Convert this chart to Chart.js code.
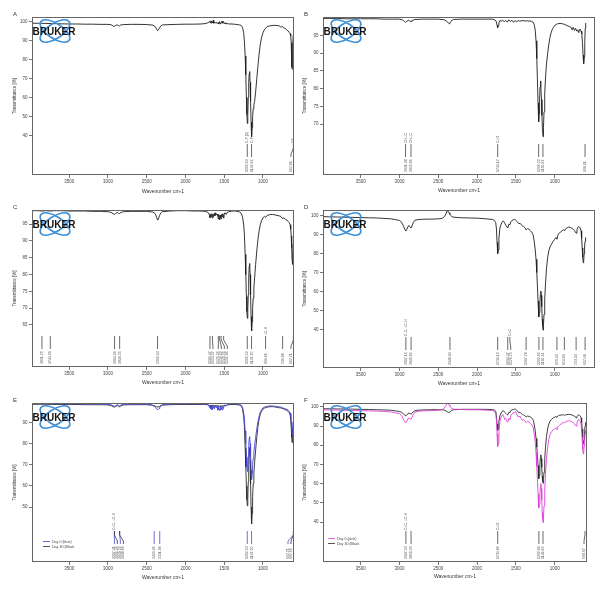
<!DOCTYPE html>
<html>
<head>
<meta charset="utf-8">
<script src="https://cdn.jsdelivr.net/npm/chart.js"></script>
<style>
  body { margin: 0; background: #fff; width: 602px; height: 592px; position: relative; overflow: hidden; }
  canvas { position: absolute; }
</style>
</head>
<body>
<canvas id="cA" width="300" height="195" style="left:0;top:0"></canvas>
<canvas id="cB" width="302" height="195" style="left:300px;top:0"></canvas>
<canvas id="cC" width="300" height="195" style="left:0;top:195px"></canvas>
<canvas id="cD" width="302" height="195" style="left:300px;top:195px"></canvas>
<canvas id="cE" width="300" height="202" style="left:0;top:390px"></canvas>
<canvas id="cF" width="302" height="202" style="left:300px;top:390px"></canvas>
<script>
// tick labels
const xTicks = [3500, 3000, 2500, 2000, 1500, 1000];
const yTicksA = [40, 50, 60, 70, 80, 90, 100];
const yTicksB = [70, 75, 80, 85, 90, 95];
const yTicksC = [65, 70, 75, 80, 85, 90, 95];
const yTicksD = [40, 50, 60, 70, 80, 90, 100];
const yTicksE = [50, 60, 70, 80, 90];
const yTicksF = [40, 50, 60, 70, 80, 90, 100];

// A
const wnA = [3980,3900,3800,3700,3600,3500,3400,3300,3200,3100,
  3000,2960,2935,2920,2905,2880,2860,2850,2840,2800,
  2700,2600,2500,2420,2390,2370,2360,2350,2335,2320,
  2300,2200,2100,2000,1900,1800,1750,1720,1700,1690,
  1680,1672,1665,1658,1650,1642,1635,1625,1615,1600,
  1590,1580,1570,1560,1550,1540,1530,1520,1510,1500,
  1490,1480,1460,1440,1400,1350,1300,1280,1265,1250,
  1240,1230,1222,1214,1208,1202,1196,1190,1184,1178,
  1172,1166,1160,1154,1147,1141,1134,1126,1118,1108,
  1095,1080,1065,1050,1035,1020,1000,980,960,940,
  900,860,820,790,770,750,730,710,690,675,
  660,650,642,636,630,626,622,618,614,610,
  606,600];
const tA = [99.3,99.3,99.2,99.1,99.0,98.9,98.9,98.8,98.8,98.7,
  98.7,98.5,97.8,97.6,98.1,98.4,98.0,97.9,98.3,98.6,
  98.7,98.7,98.6,98.3,97.5,96.0,95.3,95.8,96.8,97.8,
  98.4,98.6,98.7,98.8,98.8,98.9,99.1,99.4,99.7,100.3,
  99.5,100.6,99.4,100.2,99.6,100.8,99.3,99.9,99.4,99.8,
  99.1,99.6,99.0,100.2,98.8,99.7,100.5,99.2,100.3,99.1,
  99.5,98.9,99.2,98.9,98.9,98.7,98.4,98.1,97.2,94.5,
  90.0,82.0,72.0,60.0,51.0,46.3,51.0,60.0,68.0,72.5,
  73.7,68.0,58.0,47.0,39.3,44.0,50.0,54.0,56.0,58.0,
  63.0,70.0,77.0,83.0,88.0,91.5,94.3,96.0,97.0,97.6,
  98.0,98.2,98.1,97.9,97.3,97.5,96.8,96.5,95.6,95.2,
  94.3,93.8,92.5,89.0,82.0,76.0,75.0,80.0,88.0,93.0,
  95.0,95.5];
const peaksA = [1202.63, 1147.83, 607.86];
const namesA = ['C-F (1)', 'C-F', 'CF'];

// B
const wnB = [3985,3900,3800,3700,3600,3500,3400,3300,3200,3100,
  3000,2960,2935,2921,2905,2880,2862,2851,2840,2800,
  2700,2600,2500,2420,2390,2370,2360,2350,2335,2320,
  2300,2200,2100,2000,1900,1800,1770,1750,1742,1734,
  1726,1718,1705,1690,1670,1650,1630,1610,1590,1570,
  1550,1530,1510,1490,1470,1450,1420,1390,1350,1300,
  1280,1265,1250,1240,1230,1222,1214,1206,1200,1194,
  1188,1182,1176,1170,1164,1157,1150,1144,1137,1128,
  1118,1105,1090,1075,1060,1045,1030,1015,1000,980,
  960,930,900,870,840,810,790,775,760,745,
  730,715,700,690,680,670,660,650,642,634,
  626,618,612,606,600];
const tB = [99.8,99.8,99.8,99.7,99.7,99.7,99.7,99.7,99.6,99.6,
  99.6,99.4,98.9,98.7,99.0,99.3,99.0,98.9,99.2,99.5,
  99.6,99.6,99.6,99.4,99.0,98.5,98.3,98.5,99.0,99.3,
  99.5,99.6,99.6,99.6,99.6,99.6,99.4,98.8,97.8,97.2,
  97.8,98.6,99.2,99.0,99.3,98.9,99.2,98.8,99.4,98.9,
  99.3,98.7,99.2,98.8,99.3,99.0,99.2,99.1,99.1,99.0,
  98.8,98.2,96.5,93.5,88.5,82.5,76.0,70.7,73.0,77.0,
  80.5,82.2,81.0,77.0,72.5,68.5,66.5,69.0,73.5,78.5,
  83.0,87.0,90.0,92.5,94.5,95.8,96.7,97.3,97.8,98.1,
  98.3,98.4,98.3,98.1,97.8,97.5,97.3,96.6,97.3,96.4,
  97.0,96.2,96.6,95.8,96.5,96.8,96.2,95.5,93.0,89.5,
  87.1,89.0,93.0,97.0,98.5];
const peaksB = [2921.38, 2850.86, 1734.17, 1206.22, 1150.87, 608.31];
const namesB = ['CH\u2082-C', 'CH\u2082-C', 'C=O', '', '', ''];

// C
const wnC = [3980,3900,3851,3800,3744,3700,3600,3500,3400,3300,
  3200,3100,3000,2960,2935,2915,2900,2880,2862,2850,
  2840,2800,2700,2600,2500,2420,2390,2370,2360,2350,
  2335,2320,2300,2200,2100,2000,1900,1800,1750,1720,
  1700,1690,1684,1676,1668,1660,1653,1645,1637,1628,
  1620,1610,1600,1590,1582,1576,1570,1564,1558,1552,
  1546,1540,1533,1526,1518,1512,1507,1500,1490,1475,
  1460,1440,1400,1350,1300,1280,1265,1250,1240,1230,
  1222,1214,1208,1202,1196,1190,1184,1178,1172,1166,
  1160,1154,1147,1141,1134,1126,1118,1108,1095,1080,
  1065,1050,1035,1020,1000,980,966,950,920,880,
  840,800,770,746,730,710,690,675,660,650,
  642,636,630,625,620,616,612,608,604,600];
const tC = [99.0,99.0,98.9,99.0,98.9,99.0,99.0,98.9,98.9,98.9,
  98.8,98.8,98.7,98.5,98.1,97.9,98.2,98.5,98.2,98.1,
  98.4,98.7,98.8,98.8,98.8,98.6,98.1,96.9,96.2,96.5,
  97.5,98.3,98.7,98.9,99.0,99.0,98.9,98.9,98.8,98.6,
  98.3,97.6,96.9,98.0,97.2,98.1,96.8,97.9,97.3,98.2,
  97.5,98.4,97.7,98.0,97.4,96.5,97.8,97.0,96.4,97.7,
  97.1,96.6,97.9,97.3,98.1,97.2,96.8,98.0,98.4,97.9,
  98.5,98.7,98.9,98.9,98.6,98.2,97.2,95.0,92.0,86.0,
  80.0,73.5,69.0,67.0,69.5,74.0,79.0,82.5,83.3,80.0,
  74.0,67.5,63.2,66.0,70.0,73.0,76.0,79.0,83.0,87.0,
  90.5,93.0,94.8,96.0,96.9,97.3,97.0,97.5,97.8,97.9,
  97.7,97.5,97.3,96.6,96.9,96.4,96.2,95.8,95.4,94.8,
  93.5,91.5,88.0,84.5,83.0,84.5,89.0,94.0,97.5,98.5];
const peaksC = [3851.70, 3744.09, 2914.90, 2849.25, 2360.54, 1684.47, 1653.07, 1576.26,
  1558.92, 1540.05, 1507.86, 1202.52, 1147.70, 966.86, 746.88, 607.71];
const namesC = ['', '', '', '', '', '', '', '', '', '', '', '', '', '=C-H', '', ''];

// D and F share one wavenumber grid
const wnDF = [3985,3900,3800,3700,3600,3500,3400,3300,3200,3100,
  3050,3000,2970,2945,2930,2917,2905,2890,2875,2862,
  2850,2838,2820,2800,2750,2700,2600,2500,2450,2420,
  2400,2385,2370,2360,2350,2340,2325,2300,2200,2100,
  2000,1900,1800,1780,1760,1750,1742,1734,1726,1718,
  1705,1690,1675,1660,1645,1630,1615,1604,1590,1576,
  1565,1550,1535,1520,1505,1490,1475,1460,1445,1430,
  1415,1400,1385,1367,1350,1330,1310,1290,1275,1262,
  1250,1240,1230,1222,1214,1208,1202,1196,1190,1184,
  1178,1172,1166,1160,1155,1150,1144,1137,1128,1118,
  1105,1090,1075,1060,1040,1020,1000,985,970,960,
  950,935,920,900,885,874,860,840,820,800,
  780,760,745,735,723,712,700,690,680,670,
  660,652,645,638,632,626,620,614,608,603,
  600];
const tD = [99.5,99.4,99.3,99.2,99.1,99.0,98.9,98.8,98.6,98.3,
  97.9,97.5,96.5,94.2,92.8,91.9,92.8,94.3,94.8,93.9,
  93.5,94.6,96.5,97.6,98.0,98.1,98.2,98.3,98.6,99.5,
  101.0,102.5,102.2,101.5,100.8,100.2,99.5,99.2,98.9,98.8,
  98.7,98.4,98.0,97.6,96.5,93.0,86.0,80.0,82.0,88.0,
  93.5,95.5,96.8,97.2,96.3,95.0,94.0,93.5,95.5,95.2,
  96.8,97.4,97.8,98.0,97.8,97.2,96.3,95.8,96.0,95.2,
  94.6,94.4,93.8,92.5,93.2,92.8,92.0,91.0,89.5,86.0,
  82.0,77.0,70.0,63.0,55.0,49.5,46.6,49.0,54.0,58.5,
  60.3,58.0,52.0,45.5,42.0,39.7,42.5,48.0,56.0,64.0,
  72.0,78.0,81.5,83.5,85.0,86.5,87.5,88.5,87.6,89.5,
  90.5,91.0,91.5,92.2,92.6,92.0,93.0,93.6,94.0,93.8,
  93.4,92.8,92.2,91.5,90.8,92.5,94.0,94.4,94.0,93.5,
  92.0,88.0,83.0,78.0,75.2,76.0,80.0,84.0,86.5,88.0,
  88.5];
const peaksD = [2917.16, 2849.85, 2348.94, 1734.12, 1604.47, 1576.75, 1367.78, 1202.65,
  1150.74, 970.43, 874.80, 723.34, 607.48];
const namesD = ['C-C, =C-H', '', '', '', '', 'C=C', '', '', '', '', '', '', ''];

// E
const wnE = [3980,3900,3800,3700,3600,3500,3400,3300,3200,3100,
  3000,2960,2935,2917,2900,2880,2862,2849,2835,2800,
  2700,2600,2500,2440,2404,2390,2370,2355,2340,2331,
  2315,2300,2200,2100,2000,1900,1800,1750,1720,1700,
  1690,1682,1674,1666,1658,1650,1642,1634,1626,1618,
  1610,1600,1590,1582,1574,1566,1558,1550,1542,1534,
  1526,1518,1510,1502,1490,1475,1460,1440,1400,1350,
  1300,1280,1265,1250,1240,1230,1222,1214,1208,1202,
  1196,1190,1184,1178,1172,1166,1160,1154,1147,1141,
  1134,1126,1118,1108,1095,1080,1065,1050,1035,1020,
  1000,980,950,920,880,840,800,770,740,710,
  690,675,660,650,642,636,630,625,620,616,
  612,608,604,600];
const tE0 = [98.9,98.9,98.9,98.8,98.8,98.8,98.8,98.7,98.7,98.7,
  98.6,98.3,97.9,97.6,98.0,98.4,98.0,97.8,98.2,98.6,
  98.7,98.7,98.6,98.4,97.6,97.2,96.4,96.0,96.6,97.0,
  97.8,98.4,98.7,98.8,98.8,98.8,98.8,98.7,98.5,98.1,
  97.0,98.2,96.4,97.8,96.0,97.5,96.8,98.1,96.5,97.4,
  98.0,96.9,97.6,95.8,97.2,96.3,95.7,97.5,96.2,97.0,
  95.9,97.6,96.6,97.8,98.2,97.7,98.4,98.6,98.8,98.8,
  98.5,98.1,97.2,95.0,92.0,86.0,80.0,73.5,69.0,66.8,
  69.5,74.0,79.0,82.5,83.3,80.0,74.0,67.5,63.0,66.0,
  70.0,73.0,76.0,79.0,83.0,87.0,90.5,93.0,94.8,96.0,
  96.9,97.3,97.6,97.8,97.8,97.6,97.4,97.3,96.8,96.4,
  96.2,95.8,95.2,94.5,93.0,90.5,87.0,84.5,84.0,86.0,
  90.0,94.5,97.5,98.5];
const tE30 = [98.6,98.6,98.6,98.5,98.5,98.5,98.5,98.4,98.4,98.4,
  98.3,98.0,97.5,97.2,97.6,98.0,97.6,97.4,97.8,98.3,
  98.4,98.4,98.4,98.2,97.9,97.7,97.4,97.3,97.5,97.7,
  98.0,98.2,98.4,98.5,98.5,98.5,98.5,98.5,98.4,98.2,
  98.0,98.2,97.8,98.1,97.7,98.0,97.8,98.2,97.7,98.0,
  98.2,97.8,98.0,97.6,97.9,97.6,97.5,97.9,97.6,97.9,
  97.6,98.0,97.8,98.1,98.2,98.0,98.3,98.4,98.5,98.5,
  98.2,97.8,96.5,93.0,88.0,78.0,69.0,60.0,53.5,50.6,
  54.0,62.0,70.0,76.5,78.2,72.0,61.0,50.0,42.0,47.0,
  55.0,61.0,66.0,71.0,77.0,83.0,88.0,91.5,93.8,95.2,
  96.3,96.8,97.2,97.4,97.5,97.3,97.0,96.9,96.5,96.0,
  95.7,95.2,94.5,93.6,91.5,87.5,83.0,80.5,80.5,83.0,
  88.0,93.0,97.0,98.0];
const peaksE = [2917.41, 2916.46, 2849.25, 2848.86, 2403.95, 2331.96, 1202.52, 1147.70, 607.71, 607.06];
const namesE = ['C=C, =C-H', '', '', '', '', '', '', '', '', ''];
const peakColorsE = ['#4b4bd6', '#333', '#4b4bd6', '#333', '#4b4bd6', '#4b4bd6', '#4b4bd6', '#4b4bd6', '#4b4bd6', '#333'];

// F (on the D grid)
const tF0 = [98.4,98.4,98.3,98.2,98.1,98.0,97.9,97.8,97.6,97.3,
  96.9,96.4,95.3,93.2,92.2,91.6,92.4,93.8,94.3,93.7,
  93.5,94.5,96.2,97.2,97.7,97.9,98.0,98.2,98.5,99.4,
  100.8,101.7,101.5,101.0,100.5,99.8,99.0,98.8,98.6,98.5,
  98.5,98.3,98.1,97.7,96.5,93.0,86.0,79.4,81.0,87.0,
  92.5,94.5,95.8,95.6,93.5,93.8,92.5,92.0,94.0,93.2,
  95.3,96.2,96.8,97.0,97.6,96.5,95.0,94.8,95.2,93.8,
  93.0,93.5,92.8,91.8,92.5,92.0,91.2,90.5,89.0,85.5,
  81.5,76.0,69.0,62.0,54.5,49.5,47.3,49.5,54.5,58.5,
  60.0,57.5,51.5,45.0,41.5,39.8,42.5,48.5,57.0,65.0,
  73.0,79.0,83.0,85.5,87.0,88.0,88.6,89.0,88.0,89.5,
  90.0,90.5,91.0,91.5,92.0,91.5,92.2,92.5,92.8,92.6,
  92.3,91.8,91.2,90.5,90.0,91.5,93.0,93.5,93.2,92.5,
  91.0,87.5,82.5,78.0,75.5,76.0,79.5,83.5,86.0,87.5,
  88.0];
const tF30 = [99.0,99.0,98.9,98.9,98.8,98.7,98.6,98.5,98.4,98.2,
  97.9,97.6,97.1,96.2,95.7,95.4,95.8,96.5,96.8,96.4,
  96.2,96.6,97.5,98.0,98.3,98.4,98.5,98.5,98.5,98.3,
  97.9,97.4,97.1,97.2,97.4,97.7,98.2,98.5,98.7,98.7,
  98.7,98.7,98.6,98.4,97.8,95.5,91.0,87.8,89.0,92.5,
  95.5,96.8,97.6,98.0,97.2,96.6,96.0,95.8,97.2,97.0,
  98.0,98.4,98.6,98.8,98.8,98.3,97.5,97.0,97.2,96.5,
  96.0,95.8,95.4,94.8,95.2,95.0,94.6,94.0,93.0,90.5,
  87.5,83.5,79.0,74.5,69.5,65.5,62.6,64.5,69.5,73.5,
  75.0,73.0,68.5,64.0,61.5,60.2,62.0,66.0,72.5,79.0,
  84.5,88.5,91.0,92.5,93.5,94.2,94.6,95.0,94.5,95.2,
  95.5,95.6,95.7,95.8,95.9,95.5,95.8,96.0,96.1,96.0,
  95.8,95.5,95.2,94.7,94.3,95.0,95.6,95.8,95.6,95.2,
  94.3,92.0,88.5,84.0,80.5,80.5,83.0,87.0,90.0,91.5,
  92.0];
const peaksF = [2917.23, 2850.26, 1733.86, 1202.89, 1149.83, 608.67];
const namesF = ['C=C, =C-H', '', 'C=O', '', '', ''];

const FONT = '"Liberation Sans", Arial, sans-serif';
const BLACK = '#1e1e1e';

// frame, Bruker logo, panel letter, small legend
const deco = {
  id: 'deco',
  afterDraw(chart, args, o) {
    const { ctx, chartArea: a } = chart;
    ctx.save();
    ctx.strokeStyle = '#666';
    ctx.lineWidth = 1;
    ctx.strokeRect(Math.round(a.left) + 0.5, Math.round(a.top) + 0.5,
      Math.round(a.right - a.left) - 1, Math.round(a.bottom - a.top) - 1);

    const cx = a.left + 23, cy = a.top + 14;
    ctx.strokeStyle = '#3d8fd8';
    ctx.lineWidth = 1.7;
    [0.58, -0.58].forEach(r => {
      ctx.beginPath();
      ctx.ellipse(cx, cy, 17, 7.5, r, 0, Math.PI * 2);
      ctx.stroke();
    });
    ctx.fillStyle = '#111';
    ctx.font = 'bold 10px ' + FONT;
    ctx.textAlign = 'center';
    ctx.textBaseline = 'middle';
    ctx.fillText('BRUKER', a.left + 22, cy + 1);

    ctx.fillStyle = '#333';
    ctx.font = '6px ' + FONT;
    ctx.textAlign = 'left';
    ctx.textBaseline = 'alphabetic';
    ctx.fillText(o.letter, a.left - 19, a.top - 1);

    if (o.legend) {
      ctx.font = '3.6px ' + FONT;
      ctx.textBaseline = 'middle';
      chart.data.datasets.forEach((d, i) => {
        const y = a.bottom - o.legend.dy + i * 5;
        const x = a.left + o.legend.dx;
        ctx.strokeStyle = d.borderColor;
        ctx.lineWidth = 0.8;
        ctx.beginPath();
        ctx.moveTo(x, y);
        ctx.lineTo(x + 7, y);
        ctx.stroke();
        ctx.fillStyle = '#444';
        ctx.fillText(d.label, x + 9, y);
      });
    }
    ctx.restore();
  }
};

// OPUS style peak picks: wavenumber text, tick line, assignment above
const peakLabels = {
  id: 'peaks',
  afterDatasetsDraw(chart, args, o) {
    if (!o.values) return;
    const { ctx, chartArea: a, scales: { x } } = chart;
    const items = o.values.map((v, i) => ({
      v, name: o.names[i] || '', color: (o.colors && o.colors[i]) || '#444',
      px: x.getPixelForValue(v)
    })).sort((p, q) => p.px - q.px);
    const gap = 3;
    items.forEach((it, i) => { it.lx = i ? Math.max(it.px, items[i - 1].lx + gap) : it.px; });
    let lim = a.right - 3;
    for (let i = items.length - 1; i >= 0; i--) {
      if (items[i].lx > lim) items[i].lx = lim;
      lim = items[i].lx - gap;
    }
    const b = a.bottom;
    ctx.save();
    ctx.lineWidth = 0.8;
    ctx.font = '3.5px ' + FONT;
    ctx.textBaseline = 'middle';
    ctx.textAlign = 'left';
    items.forEach(it => {
      ctx.strokeStyle = it.color;
      ctx.beginPath();
      ctx.moveTo(it.px, b - 31);
      ctx.lineTo(it.px, b - 27);
      ctx.lineTo(it.lx, b - 21);
      ctx.lineTo(it.lx, b - 18);
      ctx.stroke();
      ctx.fillStyle = '#555';
      ctx.save();
      ctx.translate(it.lx, b - 3);
      ctx.rotate(-Math.PI / 2);
      ctx.fillText(it.v.toFixed(2), 0, 0);
      ctx.restore();
      if (it.name) {
        ctx.save();
        ctx.translate(it.px, b - 32);
        ctx.rotate(-Math.PI / 2);
        ctx.fillText(it.name, 0, 0);
        ctx.restore();
      }
    });
    ctx.restore();
  }
};

function panel(o) {
  const small = { family: FONT, size: 4.5 };
  const datasets = o.series.map(s => ({
    label: s.label,
    data: s.wn.map((w, i) => ({ x: w, y: s.t[i] })),
    borderColor: s.color,
    borderWidth: 0.9,
    pointRadius: 0,
    tension: 0,
    fill: false
  }));
  new Chart(document.getElementById(o.id), {
    type: 'line',
    data: { datasets },
    options: {
      responsive: false,
      animation: false,
      events: [],
      layout: { padding: { left: 0, top: o.box.top, right: o.box.right, bottom: 0 } },
      plugins: {
        legend: { display: false },
        tooltip: { enabled: false },
        deco: { letter: o.letter, legend: o.legend },
        peaks: { values: o.peaks, names: o.names, colors: o.peakColors }
      },
      scales: {
        x: {
          type: 'linear', reverse: true, min: o.xr[0], max: o.xr[1],
          afterBuildTicks: s => { s.ticks = xTicks.map(v => ({ value: v })); },
          afterFit: s => { s.height = o.box.xh; },
          ticks: { font: small, color: '#444', padding: 1.5, maxRotation: 0, autoSkip: false, callback: v => String(v) },
          grid: { drawOnChartArea: false, tickLength: 3, color: '#777' },
          border: { display: false },
          title: { display: true, text: 'Wavenumber cm-1', font: { family: FONT, size: 5 }, color: '#333',
            padding: { top: 0, bottom: o.box.xtp } }
        },
        y: {
          min: o.yr[0], max: o.yr[1],
          afterBuildTicks: s => { s.ticks = o.yTicks.map(v => ({ value: v })); },
          afterFit: s => { s.width = o.box.yw; },
          ticks: { font: small, color: '#444', padding: 1.5, autoSkip: false, callback: v => String(v) },
          grid: { drawOnChartArea: false, tickLength: 3, color: '#777' },
          border: { display: false },
          title: { display: true, text: 'Transmittance [%]', font: small, color: '#333',
            padding: { top: o.box.ytp, bottom: 0 } }
        }
      }
    },
    plugins: [peakLabels, deco]
  });
}

panel({ id: 'cA', letter: 'A', xr: [600, 3980], yr: [19, 102.6], yTicks: yTicksA,
  series: [{ label: 'A', wn: wnA, t: tA, color: BLACK }],
  peaks: peaksA, names: namesA,
  box: { top: 17, right: 6, yw: 32, xh: 20, ytp: 12.3, xtp: 0 } });

panel({ id: 'cB', letter: 'B', xr: [480, 3985], yr: [55.7, 100.2], yTicks: yTicksB,
  series: [{ label: 'B', wn: wnB, t: tB, color: BLACK }],
  peaks: peaksB, names: namesB,
  box: { top: 17, right: 7, yw: 23, xh: 20, ytp: 2.3, xtp: 1.3 } });

panel({ id: 'cC', letter: 'C', xr: [600, 3980], yr: [52.5, 99.2], yTicks: yTicksC,
  series: [{ label: 'C', wn: wnC, t: tC, color: BLACK }],
  peaks: peaksC, names: namesC,
  box: { top: 15, right: 6, yw: 32, xh: 23, ytp: 12.3, xtp: 4 } });

panel({ id: 'cD', letter: 'D', xr: [480, 3985], yr: [19.7, 103], yTicks: yTicksD,
  series: [{ label: 'D', wn: wnDF, t: tD, color: BLACK }],
  peaks: peaksD, names: namesD,
  box: { top: 15, right: 7, yw: 23, xh: 22, ytp: 2.3, xtp: 3.7 } });

panel({ id: 'cE', letter: 'E', xr: [600, 3980], yr: [24, 99.2], yTicks: yTicksE,
  series: [
    { label: 'Day 0 (blue)', wn: wnE, t: tE0, color: '#4545d8' },
    { label: 'Day 30 (Black', wn: wnE, t: tE30, color: '#2a2a2a' }
  ],
  peaks: peaksE, names: namesE, peakColors: peakColorsE,
  legend: { dx: 11, dy: 20.5 },
  box: { top: 13, right: 6, yw: 32, xh: 30, ytp: 12.3, xtp: 11.3 } });

panel({ id: 'cF', letter: 'F', xr: [583, 3985], yr: [19.2, 102], yTicks: yTicksF,
  series: [
    { label: 'Day 0 (pink)', wn: wnDF, t: tF0, color: '#e040dc' },
    { label: 'Day 30 (Black', wn: wnDF, t: tF30, color: '#2a2a2a' }
  ],
  peaks: peaksF, names: namesF,
  legend: { dx: 5, dy: 23.5 },
  box: { top: 13, right: 15, yw: 23, xh: 30, ytp: 2.3, xtp: 12.3 } });
</script>
</body>
</html>
